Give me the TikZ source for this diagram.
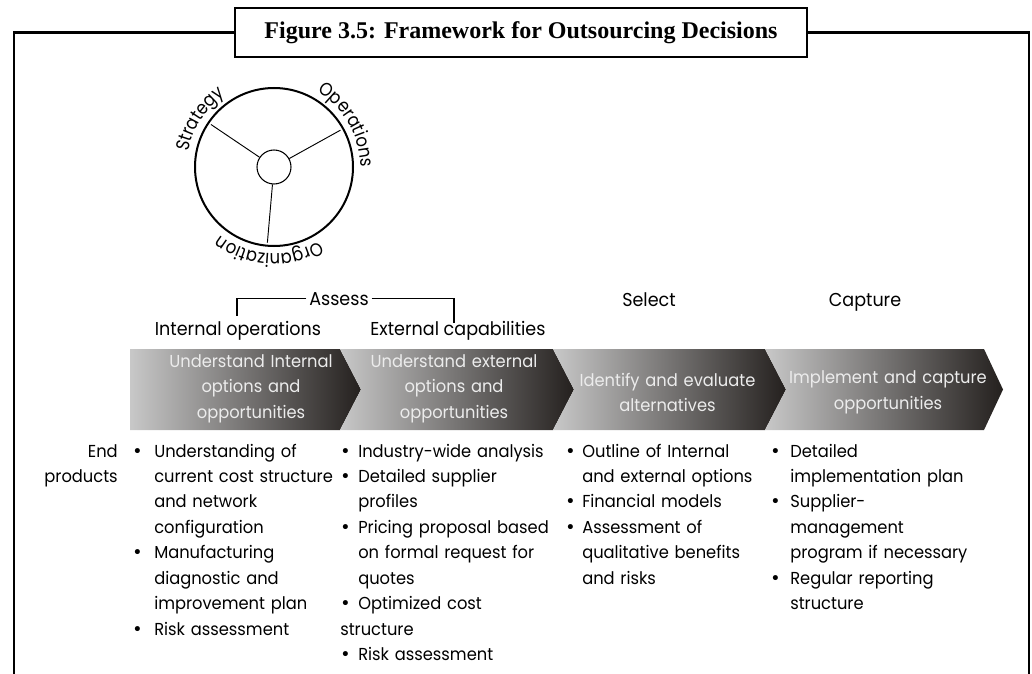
\documentclass[tikz,border=0pt]{standalone}
\usepackage{fontspec}
\setmainfont{Poppins}[FakeStretch=0.94]
\newfontfamily\wheelfam{Poppins}[FakeStretch=0.88]
\newfontfamily\titlefont{Liberation Serif}
\newfontfamily\bulfont{DejaVu Sans}
\usetikzlibrary{decorations.text,calc}

\definecolor{chevlight}{RGB}{200,200,200}
\definecolor{chevdark}{RGB}{36,32,30}
\definecolor{chevtext}{RGB}{236,236,236}

\newcommand{\bodyfont}{\fontsize{13}{19.1}\selectfont}
\newcommand{\headfont}{\fontsize{14}{17}\selectfont}
\newcommand{\wheelfont}{\wheelfam\fontsize{14}{16}\selectfont}
\newcommand{\bl}[1]{\makebox[#1][l]{\bulfont •}}
\newcommand{\ct}[1]{\hspace*{#1}}

\begin{document}
\begin{tikzpicture}[x=0.75pt, y=-0.75pt,
  frame/.style={line width=2pt},
  spoke/.style={line width=0.7pt, shorten >=3pt},
  bracket/.style={line width=1.1pt},
  head/.style={font=\headfont, anchor=base, inner sep=2pt},
  chevtxt/.style={font=\bodyfont, text=chevtext, align=center, inner sep=0pt, text width=170pt},
  body/.style={font=\bodyfont, inner sep=0pt, text width=#1, align=left, anchor=base west}]
\useasboundingbox (0,0) rectangle (1032,674);

% frame and title
\node[draw, frame, fill=white, minimum width=429pt, minimum height=36.75pt,
  font=\titlefont\bfseries\fontsize{18}{22}\selectfont] (title) at (521,32.5)
  {Figure 3.5: Framework for Outsourcing Decisions};
\coordinate (fbl) at (14,674);
\coordinate (fbr) at (1029,674);
\draw[frame] (title.west) -| (fbl);
\draw[frame] (title.east) -| (fbr);

% wheel
\begin{scope}[shift={(274,167)}, y=0.75pt]
\node[circle, draw, line width=1.5pt, minimum size=118.5pt] (rim) at (0,0) {};
\node[circle, draw, line width=0.8pt, minimum size=25.5pt] (hub) at (0,0) {};
\draw[spoke] (hub.146) -- (rim.146);
\draw[spoke] (hub.29) -- (rim.29);
\draw[spoke] (hub.-95) -- (rim.-95);
\path[decorate, decoration={text along path, text align=center, text={|\wheelfont|Strategy}}]
  (192:65pt) arc[start angle=192, end angle=102, radius=65pt];
\path[decorate, decoration={text along path, text align=center, text={|\wheelfont|Operations}}]
  (80:65pt) arc[start angle=80, end angle=-20, radius=65pt];
\path[decorate, decoration={text along path, text align=center, text={|\wheelfont|Organization}}]
  (-38:65pt) arc[start angle=-38, end angle=-149, radius=65pt];
\end{scope}

% phase labels
\node[head] (assess) at (339,305) {Assess};
\node[head] (intop) at (238,335) {Internal operations};
\node[head] (extcap) at (458,335) {External capabilities};
\node[head] (select) at (649,306) {Select};
\node[head] (capture) at (865,306) {Capture};
\coordinate (brkl) at (237,316);
\coordinate (brkr) at (454,323);
\draw[bracket] (assess.west) -| (brkl);
\draw[bracket] (assess.east) -| (brkr);

% chevrons
\shade[left color=chevlight, right color=chevdark] (130,349) -- (340,349) -- (361,389.5) -- (340,430) -- (130,430) -- cycle;
\shade[left color=chevlight, right color=chevdark] (340,349) -- (553,349) -- (574,389.5) -- (553,430) -- (340,430) -- (361,389.5) -- cycle;
\shade[left color=chevlight, right color=chevdark] (553,349) -- (765,349) -- (786,389.5) -- (765,430) -- (553,430) -- (574,389.5) -- cycle;
\shade[left color=chevlight, right color=chevdark] (765,349) -- (984,349) -- (1003,389.5) -- (984,430) -- (765,430) -- (786,389.5) -- cycle;
\node[chevtxt] (intopt) at (251,388.5) {Understand Internal\\options and\\opportunities};
\node[chevtxt] (extopt) at (454,388.5) {Understand external\\options and\\opportunities};
\node[chevtxt] (evalalt) at (667.5,392.5) {Identify and evaluate\\alternatives};
\node[chevtxt] (implcap) at (888,392.5) {Implement and capture\\opportunities};

% end products
\node[body=80pt, align=right, anchor=base east] (endprod) at (118,457) {End\\products};
\node[body=175pt] (col1) at (132,457) {\bl{16.5pt}Understanding of\\
  \ct{16.5pt}current cost structure\\
  \ct{16.5pt}and network\\
  \ct{16.5pt}configuration\\
  \bl{16.5pt}Manufacturing\\
  \ct{16.5pt}diagnostic and\\
  \ct{16.5pt}improvement plan\\
  \bl{16.5pt}Risk assessment};
\node[body=175pt] (col2) at (340,457) {\bl{13.5pt}Industry-wide analysis\\
  \bl{13.5pt}Detailed supplier\\
  \ct{13.5pt}profiles\\
  \bl{13.5pt}Pricing proposal based\\
  \ct{13.5pt}on formal request for\\
  \ct{13.5pt}quotes\\
  \bl{13.5pt}Optimized cost\\
  structure\\
  \bl{13.5pt}Risk assessment};
\node[body=175pt] (col3) at (565,457) {\bl{12.75pt}Outline of Internal\\
  \ct{12.75pt}and external options\\
  \bl{12.75pt}Financial models\\
  \bl{12.75pt}Assessment of\\
  \ct{12.75pt}qualitative benefits\\
  \ct{12.75pt}and risks};
\node[body=175pt] (col4) at (770,457) {\bl{15pt}Detailed\\
  \ct{15pt}implementation plan\\
  \bl{15pt}Supplier-\\
  \ct{15pt}management\\
  \ct{15pt}program if necessary\\
  \bl{15pt}Regular reporting\\
  \ct{15pt}structure};
\end{tikzpicture}
\end{document}
